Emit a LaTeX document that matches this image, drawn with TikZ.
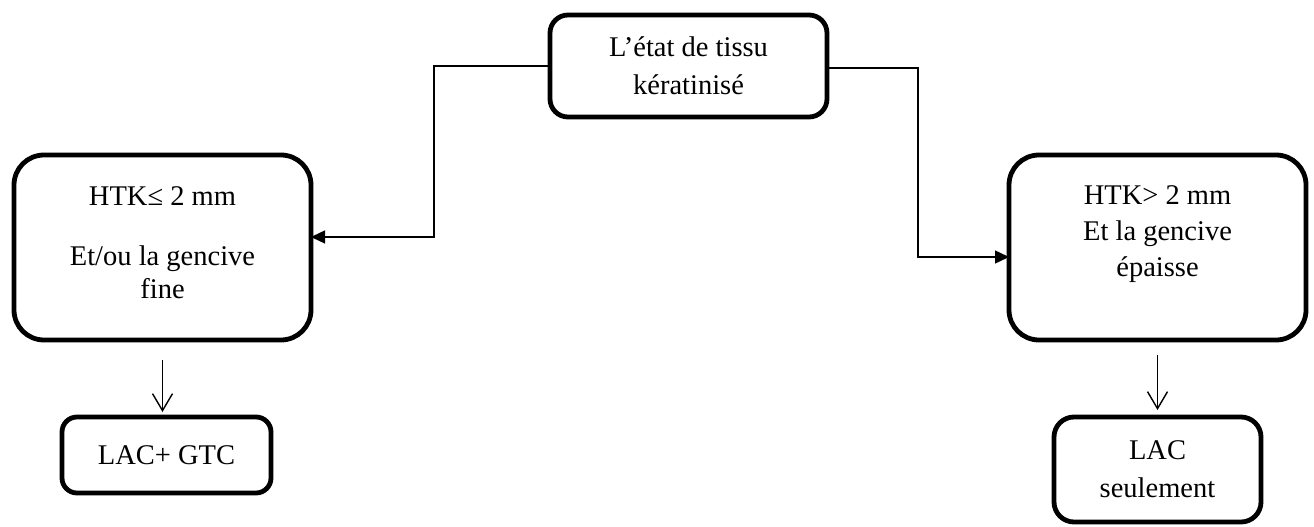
\documentclass[tikz,border=0pt]{standalone}
\usepackage{fontspec}
\setmainfont{Liberation Serif}
\usetikzlibrary{arrows.meta}
\tikzset{
  box/.style={draw=black, line width=4.8pt, rounded corners=#1, inner sep=0pt, outer sep=0pt, align=center, font=\fontsize{28.5}{38}\selectfont},
  box/.default=18pt,
  txt/.style={inner sep=0pt, align=center, font=\fontsize{28.5}{36}\selectfont},
  conn/.style={line width=1.4pt, -{Triangle[length=14pt,width=13pt]}},
  down/.style={line width=1.4pt, -{Straight Barb[length=17pt,width=20pt,line width=1.4pt]}}
}
\begin{document}
\begin{tikzpicture}[x=1pt,y=-1pt]
\useasboundingbox (0,0) rectangle (1314,527);
% boxes
\node[box=18pt, minimum width=277pt, minimum height=102pt] (top) at (688.5,66) {L’état de tissu\\kératinisé};
\node[box=30pt, minimum width=297pt, minimum height=185pt] (lb) at (162.5,247.5) {};
\node[txt] (lbt) at (162.5,243) {HTK≤ 2 mm\\[24pt]Et/ou la gencive\\[-3pt]fine};
\node[box=30pt, minimum width=297pt, minimum height=185pt] (rb) at (1157.5,247.5) {};
\node[txt] (rbt) at (1157.5,234) {HTK> 2 mm\\Et la gencive\\épaisse};
\node[box=15pt, minimum width=209pt, minimum height=76pt] (lacg) at (166.5,455) {LAC+ GTC};
\node[box=20pt, minimum width=207pt, minimum height=105pt] (lacs) at (1157.5,469.5) {LAC\\seulement};
% connectors
\draw[conn] ([yshift=0pt]top.west) -- ++(-116,0) |- ([yshift=10.5pt]lb.east);
\draw[conn] ([yshift=-2pt]top.east) -- ++(91,0) |- ([yshift=-9.5pt]rb.west);
\draw[down] ([yshift=-20pt]lb.south) -- ([yshift=5pt]lb.south |- lacg.north);
\draw[down] ([yshift=-15pt]rb.south) -- ([yshift=7pt]rb.south |- lacs.north);
\end{tikzpicture}
\end{document}
